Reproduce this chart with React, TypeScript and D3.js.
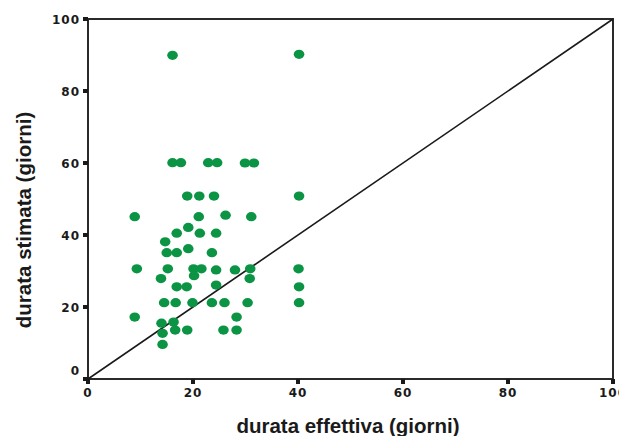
import React, { useEffect, useRef } from 'react';
import * as d3 from 'd3';

// durata effettiva (giorni) vs durata stimata (giorni)
const effettiva = [
  16.1, 40.2,
  16.1, 17.7, 22.9, 24.6, 29.9, 31.6,
  18.9, 21.2, 24.0, 40.2,
  8.9, 21.1, 26.2, 31.1,
  19.1,
  16.9, 21.3, 24.4,
  14.7,
  19.1,
  15.0, 16.9, 23.6,
  9.3, 15.2, 20.1, 21.6, 24.4, 28.0, 30.9, 40.1,
  20.2,
  13.9, 30.8,
  16.9, 18.8, 24.4, 40.2,
  14.5, 16.7, 19.9, 23.6, 26.0, 30.4, 40.2,
  8.9, 28.3,
  14.0, 16.3,
  16.6, 18.9, 25.8, 28.3,
  14.2,
  14.2,
];
const stimata = [
  89.9, 90.2,
  60.1, 60.1, 60.1, 60.1, 60.0, 60.0,
  50.8, 50.8, 50.8, 50.8,
  45.1, 45.1, 45.5, 45.1,
  42.1,
  40.5, 40.5, 40.5,
  38.1,
  36.2,
  35.1, 35.1, 35.1,
  30.6, 30.6, 30.6, 30.6, 30.3, 30.3, 30.6, 30.6,
  28.7,
  27.9, 27.9,
  25.6, 25.6, 26.1, 25.6,
  21.2, 21.2, 21.2, 21.2, 21.2, 21.2, 21.2,
  17.2, 17.2,
  15.5, 15.8,
  13.6, 13.6, 13.6, 13.6,
  12.7,
  9.6,
];
const tickValues = [0, 20, 40, 60, 80, 100];

const W = 619;
const H = 436;
const margin = { top: 19, right: 6, bottom: 57, left: 88 };
const GREEN = '#0b9444';
const TICK_FONT = '"DejaVu Sans", sans-serif';
const TITLE_FONT = '"Liberation Sans", Arial, sans-serif';

export default function App() {
  const svgRef = useRef<SVGSVGElement | null>(null);

  useEffect(() => {
    if (!svgRef.current) return;
    const svg = d3.select(svgRef.current);
    svg.selectAll('*').remove();

    const x = d3.scaleLinear().domain([0, 100]).range([margin.left, W - margin.right]);
    const y = d3.scaleLinear().domain([0, 100]).range([H - margin.bottom, margin.top]);

    const g = svg.append('g');

    // frame
    g.append('rect')
      .attr('x', x(0)).attr('y', y(100))
      .attr('width', x(100) - x(0)).attr('height', y(0) - y(100))
      .attr('fill', 'none').attr('stroke', '#2a2a2a').attr('stroke-width', 2);

    // tick squares
    g.selectAll('rect.xt').data(tickValues).enter().append('rect')
      .attr('x', d => x(d) - 2).attr('y', y(0)).attr('width', 4).attr('height', 5)
      .attr('fill', '#1a1a1a');
    g.selectAll('rect.yt').data(tickValues).enter().append('rect')
      .attr('x', x(0) - 5).attr('y', d => y(d) - 2).attr('width', 5).attr('height', 4)
      .attr('fill', '#1a1a1a');

    // tick labels
    g.selectAll('text.xl').data(tickValues).enter().append('text')
      .attr('x', d => x(d)).attr('y', y(0) + 18)
      .attr('text-anchor', 'middle')
      .style('font-family', TICK_FONT).style('font-weight', 'bold')
      .style('font-size', '12px').style('letter-spacing', '1px')
      .attr('fill', '#1a1a1a')
      .text(d => d);
    g.selectAll('text.yl').data(tickValues).enter().append('text')
      .attr('x', x(0) - 8).attr('y', d => y(d) + (d === 0 ? -4 : 4.5))
      .attr('text-anchor', 'end')
      .style('font-family', TICK_FONT).style('font-weight', 'bold')
      .style('font-size', '12px').style('letter-spacing', '1px')
      .attr('fill', '#1a1a1a')
      .text(d => d);

    // diagonal y = x
    g.append('line')
      .attr('x1', x(0)).attr('y1', y(0)).attr('x2', x(100)).attr('y2', y(100))
      .attr('stroke', '#1a1a1a').attr('stroke-width', 1.6);

    // points
    const pts = effettiva.map((v, i) => [v, stimata[i]]);
    g.selectAll('ellipse').data(pts).enter().append('ellipse')
      .attr('cx', d => x(d[0])).attr('cy', d => y(d[1]))
      .attr('rx', 5.3).attr('ry', 4.6)
      .attr('fill', GREEN);

    // axis titles
    g.append('text')
      .attr('x', 348).attr('y', 433)
      .attr('text-anchor', 'middle')
      .style('font-family', TITLE_FONT).style('font-weight', 'bold').style('font-size', '20.5px')
      .attr('fill', '#1a1a1a')
      .text('durata effettiva (giorni)');
    g.append('text')
      .attr('transform', 'translate(31,220) rotate(-90)')
      .attr('text-anchor', 'middle')
      .style('font-family', TITLE_FONT).style('font-weight', 'bold').style('font-size', '20.5px')
      .attr('fill', '#1a1a1a')
      .text('durata stimata (giorni)');
  }, []);

  return (
    <svg
      ref={svgRef}
      width={W}
      height={H}
      style={{ position: 'fixed', left: 0, top: 0, background: '#fff' }}
    />
  );
}
